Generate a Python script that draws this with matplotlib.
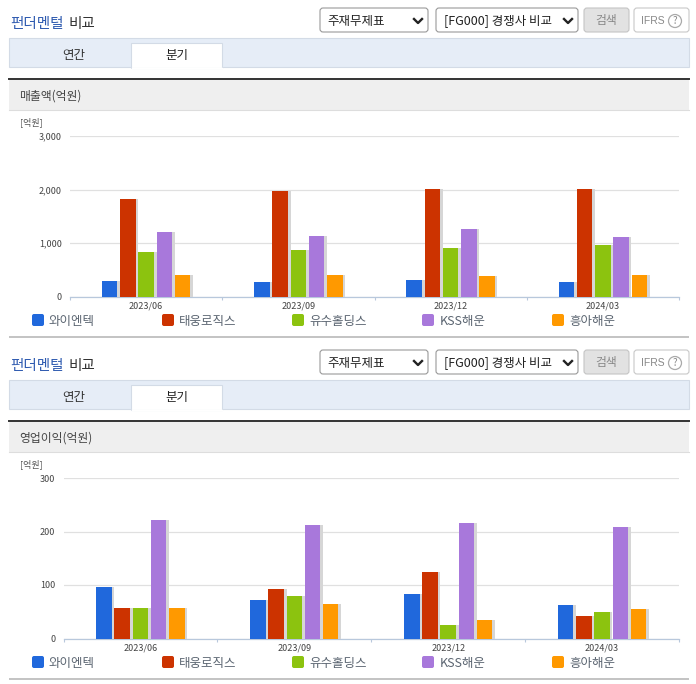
import numpy as np
import matplotlib
matplotlib.use('Agg')
import matplotlib.pyplot as plt
import matplotlib.patheffects as pe
from matplotlib.patches import Rectangle, FancyBboxPatch, Circle

plt.rcParams['font.family'] = ['Noto Sans CJK KR', 'DejaVu Sans']

periods = ['2023/06', '2023/09', '2023/12', '2024/03']
companies = ['와이엔텍', '태웅로직스', '유수홀딩스', 'KSS해운', '흥아해운']
colors = ['#2068dc', '#cc3300', '#8cc30f', '#a878db', '#ff9900']

sales = [[295, 1820, 840, 1210, 400],
         [270, 1970, 860, 1130, 400],
         [305, 2010, 905, 1260, 380],
         [270, 2010, 960, 1110, 410]]
profit = [[96, 57, 57, 222, 57],
          [72, 92, 80, 212, 65],
          [83, 124, 25, 216, 35],
          [62, 42, 49, 208, 55]]

W, H = 696, 684
fig = plt.figure(figsize=(W / 100, H / 100), dpi=100)

# 화면 전체 (픽셀 좌표)
bg = fig.add_axes([0, 0, 1, 1])
bg.set_xlim(0, W)
bg.set_ylim(H, 0)
bg.axis('off')


def round_box(x, y, w, h, fc, ec):
    bg.add_patch(FancyBboxPatch((x + 2, y + 2), w - 4, h - 4, boxstyle='round,pad=2,rounding_size=3',
                                fc=fc, ec=ec, lw=0.8))


def chevron(x, y):
    bg.plot([x - 4, x, x + 4], [y - 2, y + 2, y - 2], color='#222222', lw=1.7)


def panel(dy, chart_title):
    bg.text(10, 24 + dy, '펀더멘털', color='#2f5bb0', fontsize=10.5, va='center', fontweight='medium')
    bg.text(69, 24 + dy, '비교', color='#333333', fontsize=10.5, va='center', fontweight='medium')
    round_box(320, 8 + dy, 108, 24, 'white', '#999999')
    bg.text(327, 21 + dy, '주재무제표', fontsize=9, color='#222222', va='center')
    chevron(418, 21 + dy)
    round_box(436, 8 + dy, 142, 24, 'white', '#999999')
    bg.text(444, 21 + dy, '[FG000] 경쟁사 비교', fontsize=9, color='#222222', va='center')
    chevron(568, 21 + dy)
    round_box(584, 8 + dy, 45, 24, '#e2e2e2', '#c4c4c4')
    bg.text(606, 20.5 + dy, '검색', fontsize=8.5, color='#888888', va='center', ha='center')
    round_box(634, 8 + dy, 55, 24, 'white', '#c8c8c8')
    bg.text(641, 20.5 + dy, 'IFRS', fontsize=7.5, color='#888888', va='center', family='Liberation Sans')
    bg.add_patch(Circle((675, 21 + dy), 6.5, fc='white', ec='#aaaaaa', lw=0.9))
    bg.text(675, 21 + dy, '?', fontsize=7, color='#888888', va='center', ha='center')

    bg.add_patch(Rectangle((9, 38 + dy), 680, 29, fc='#e6edf7', ec='#d3dbe6', lw=0.8))
    bg.add_patch(Rectangle((131, 43 + dy), 91, 25, fc='white', ec='#d3dbe6', lw=0.8, zorder=3))
    bg.plot([131.5, 221.5], [67.5 + dy, 67.5 + dy], color='white', lw=1, zorder=4)
    bg.text(74, 55 + dy, '연간', fontsize=9, color='#333333', ha='center', va='center')
    bg.text(177, 55.5 + dy, '분기', fontsize=9, color='#222222', ha='center', va='center', zorder=5)

    bg.add_patch(Rectangle((9, 80 + dy), 680, 30, fc='#efefef', ec='none'))
    bg.plot([9, 689], [79 + dy, 79 + dy], color='#333333', lw=1.4)
    bg.plot([9, 689], [110 + dy, 110 + dy], color='#dddddd', lw=0.8)
    bg.text(19, 96 + dy, chart_title, fontsize=8.5, color='#444444', va='center')
    bg.text(20, 122.5 + dy, '[억원]', fontsize=6.5, color='#555555', va='center')

    # 범례
    for x, tx, name, c in zip([32, 162, 292, 422, 552], [49, 179, 309, 440, 569], companies, colors):
        bg.add_patch(FancyBboxPatch((x + 2, 316 + dy), 8, 8, boxstyle='round,pad=2,rounding_size=2', fc=c, ec='none'))
        bg.text(tx, 321.5 + dy, name, fontsize=9, color='#5a6470', va='center')
    bg.add_patch(Rectangle((9, 336 + dy), 680, 2.2, fc='#c4c4c4', ec='none'))


def chart(left, dy, values, ymax, yticks, ylabels):
    top, bottom = 136 + dy, 296.5 + dy
    ax = fig.add_axes([left / W, 1 - bottom / H, (679 - left) / W, (bottom - top) / H])
    ax.patch.set_alpha(0)
    groups = np.arange(len(periods)) + 0.5
    group_px = (679 - left) / len(periods)
    step = 18.2 / group_px
    data = np.array(values)
    shadow = [pe.SimplePatchShadow(offset=(1.9, 0), shadow_rgbFace='#d6d6d6', alpha=1), pe.Normal()]
    for i, c in enumerate(colors):
        ax.bar(groups + (i - 2) * step, data[:, i], width=15.5 / group_px, color=c, zorder=3, path_effects=shadow)
    ax.set_xlim(0, len(periods))
    ax.set_ylim(0, ymax)
    ax.set_yticks(yticks, ylabels)
    ax.set_xticks(np.arange(len(periods) + 1), [''] * (len(periods) + 1))
    ax.set_xticks(groups, periods, minor=True)
    ax.tick_params(axis='y', length=0, pad=5.8, labelsize=6.5, labelcolor='#444444')
    ax.tick_params(axis='x', which='major', length=2.5, width=0.8, color='#b8c8dc')
    ax.tick_params(axis='x', which='minor', length=0, pad=3.5, labelsize=6.5, labelcolor='#444444')
    ax.grid(axis='y', color='#e0e0e0', lw=0.9, zorder=1)
    ax.set_axisbelow(True)
    for s in ['top', 'right', 'left']:
        ax.spines[s].set_visible(False)
    ax.spines['bottom'].set_color('#b8c8dc')
    ax.spines['bottom'].set_linewidth(0.9)
    return ax


panel(0, '매출액(억원)')
panel(342, '영업이익(억원)')
chart(70, 0, sales, 3000, [0, 1000, 2000, 3000], ['0', '1,000', '2,000', '3,000'])
chart(63.5, 342, profit, 300, [0, 100, 200, 300], ['0', '100', '200', '300'])

fig.savefig('out.png', dpi=100)
